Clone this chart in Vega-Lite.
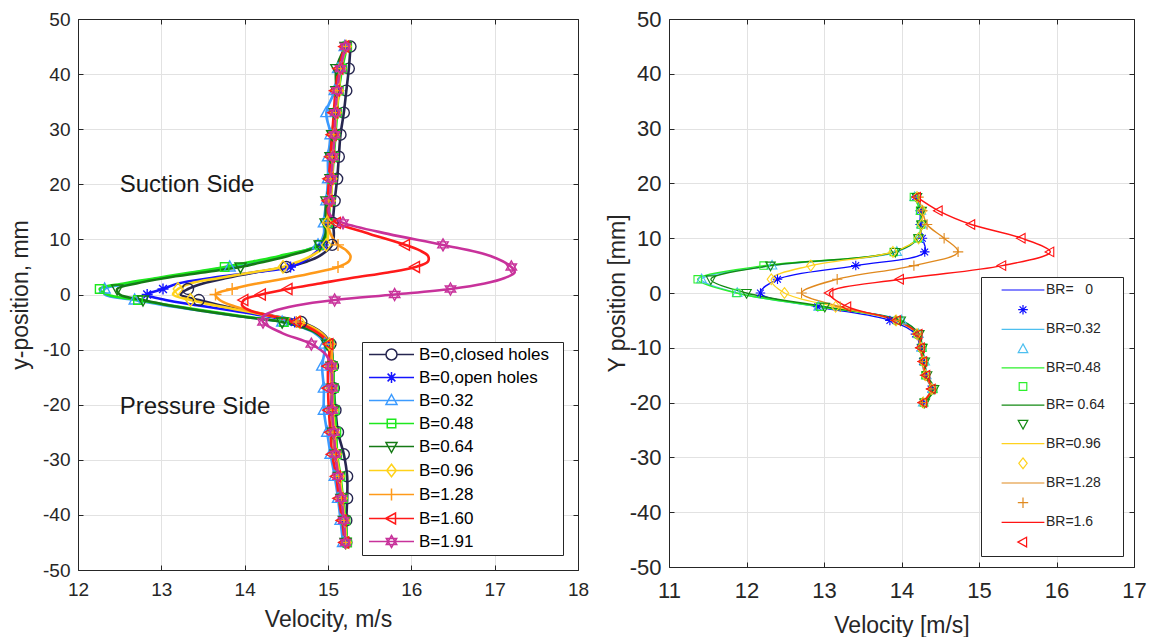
{
"$schema": "https://vega.github.io/schema/vega-lite/v6.json",
"padding": {"left": 9, "top": 8, "right": 5, "bottom": 0},
"spacing": 17,
"config": {
  "font": "Liberation Sans",
  "view": {"stroke": null},
  "axis": {"labelFlush": false, "domainColor": "#262626", "tickColor": "#262626", "labelColor": "#262626", "titleColor": "#262626", "titleFontWeight": "normal", "gridColor": "#e2e2e2", "gridWidth": 1, "domainWidth": 1, "tickWidth": 1}
},
"resolve": {"scale": {"color": "independent", "shape": "independent"}, "legend": {"color": "independent"}},
"datasets": {
"L": [
{"s":"B=0,closed holes","y":45,"v":15.27,"m":1},{"s":"B=0,closed holes","y":41,"v":15.25,"m":1},{"s":"B=0,closed holes","y":37,"v":15.22,"m":1},{"s":"B=0,closed holes","y":33,"v":15.19,"m":1},{"s":"B=0,closed holes","y":29,"v":15.15,"m":1},{"s":"B=0,closed holes","y":25,"v":15.13,"m":1},{"s":"B=0,closed holes","y":21,"v":15.11,"m":1},{"s":"B=0,closed holes","y":17,"v":15.08,"m":1},{"s":"B=0,closed holes","y":13,"v":15.06,"m":1},{"s":"B=0,closed holes","y":11,"v":15.07,"m":0},{"s":"B=0,closed holes","y":9,"v":15.05,"m":1},{"s":"B=0,closed holes","y":7,"v":14.9,"m":0},{"s":"B=0,closed holes","y":6,"v":14.75,"m":0},{"s":"B=0,closed holes","y":5,"v":14.5,"m":1},{"s":"B=0,closed holes","y":4,"v":14.12,"m":0},{"s":"B=0,closed holes","y":3,"v":13.78,"m":0},{"s":"B=0,closed holes","y":2,"v":13.5,"m":0},{"s":"B=0,closed holes","y":1,"v":13.32,"m":1},{"s":"B=0,closed holes","y":0,"v":13.23,"m":0},{"s":"B=0,closed holes","y":-1,"v":13.45,"m":1},{"s":"B=0,closed holes","y":-2,"v":13.72,"m":0},{"s":"B=0,closed holes","y":-3,"v":14.02,"m":0},{"s":"B=0,closed holes","y":-4,"v":14.38,"m":0},{"s":"B=0,closed holes","y":-5,"v":14.68,"m":1},{"s":"B=0,closed holes","y":-7,"v":14.93,"m":0},{"s":"B=0,closed holes","y":-9,"v":15.03,"m":1},{"s":"B=0,closed holes","y":-13,"v":15.06,"m":1},{"s":"B=0,closed holes","y":-17,"v":15.07,"m":1},{"s":"B=0,closed holes","y":-21,"v":15.09,"m":1},{"s":"B=0,closed holes","y":-25,"v":15.12,"m":1},{"s":"B=0,closed holes","y":-29,"v":15.19,"m":1},{"s":"B=0,closed holes","y":-33,"v":15.23,"m":1},{"s":"B=0,closed holes","y":-37,"v":15.23,"m":1},{"s":"B=0,closed holes","y":-41,"v":15.22,"m":1},{"s":"B=0,closed holes","y":-45,"v":15.22,"m":1},
{"s":"B=0,open holes","y":45,"v":15.22,"m":1},{"s":"B=0,open holes","y":41,"v":15.16,"m":1},{"s":"B=0,open holes","y":37,"v":15.13,"m":1},{"s":"B=0,open holes","y":33,"v":15.1,"m":1},{"s":"B=0,open holes","y":29,"v":15.08,"m":1},{"s":"B=0,open holes","y":25,"v":15.06,"m":1},{"s":"B=0,open holes","y":21,"v":15.04,"m":1},{"s":"B=0,open holes","y":17,"v":15.02,"m":1},{"s":"B=0,open holes","y":13,"v":15.0,"m":1},{"s":"B=0,open holes","y":11,"v":14.99,"m":0},{"s":"B=0,open holes","y":9,"v":14.94,"m":1},{"s":"B=0,open holes","y":7,"v":14.8,"m":0},{"s":"B=0,open holes","y":6,"v":14.7,"m":0},{"s":"B=0,open holes","y":5,"v":14.55,"m":1},{"s":"B=0,open holes","y":4,"v":14.1,"m":0},{"s":"B=0,open holes","y":3,"v":13.6,"m":0},{"s":"B=0,open holes","y":2,"v":13.2,"m":0},{"s":"B=0,open holes","y":1,"v":13.02,"m":1},{"s":"B=0,open holes","y":0,"v":12.83,"m":1},{"s":"B=0,open holes","y":-1,"v":13.05,"m":0},{"s":"B=0,open holes","y":-2,"v":13.45,"m":0},{"s":"B=0,open holes","y":-3,"v":13.88,"m":0},{"s":"B=0,open holes","y":-4,"v":14.28,"m":0},{"s":"B=0,open holes","y":-5,"v":14.6,"m":1},{"s":"B=0,open holes","y":-7,"v":14.9,"m":0},{"s":"B=0,open holes","y":-9,"v":15.0,"m":1},{"s":"B=0,open holes","y":-13,"v":15.03,"m":1},{"s":"B=0,open holes","y":-17,"v":15.04,"m":1},{"s":"B=0,open holes","y":-21,"v":15.04,"m":1},{"s":"B=0,open holes","y":-25,"v":15.07,"m":1},{"s":"B=0,open holes","y":-29,"v":15.09,"m":1},{"s":"B=0,open holes","y":-33,"v":15.13,"m":1},{"s":"B=0,open holes","y":-37,"v":15.16,"m":1},{"s":"B=0,open holes","y":-41,"v":15.19,"m":1},{"s":"B=0,open holes","y":-45,"v":15.21,"m":1},
{"s":"B=0.32","y":45,"v":15.2,"m":1},{"s":"B=0.32","y":41,"v":15.12,"m":1},{"s":"B=0.32","y":37,"v":15.08,"m":1},{"s":"B=0.32","y":33,"v":14.98,"m":1},{"s":"B=0.32","y":29,"v":15.03,"m":1},{"s":"B=0.32","y":25,"v":15.0,"m":1},{"s":"B=0.32","y":21,"v":15.0,"m":1},{"s":"B=0.32","y":17,"v":14.98,"m":1},{"s":"B=0.32","y":13,"v":14.95,"m":1},{"s":"B=0.32","y":11,"v":14.95,"m":0},{"s":"B=0.32","y":9,"v":14.88,"m":1},{"s":"B=0.32","y":7,"v":14.45,"m":0},{"s":"B=0.32","y":6,"v":14.15,"m":0},{"s":"B=0.32","y":5,"v":13.82,"m":1},{"s":"B=0.32","y":4,"v":13.4,"m":0},{"s":"B=0.32","y":3,"v":13.0,"m":0},{"s":"B=0.32","y":2,"v":12.62,"m":0},{"s":"B=0.32","y":1,"v":12.32,"m":1},{"s":"B=0.32","y":0,"v":12.32,"m":0},{"s":"B=0.32","y":-1,"v":12.68,"m":1},{"s":"B=0.32","y":-2,"v":13.05,"m":0},{"s":"B=0.32","y":-3,"v":13.5,"m":0},{"s":"B=0.32","y":-4,"v":13.95,"m":0},{"s":"B=0.32","y":-5,"v":14.45,"m":1},{"s":"B=0.32","y":-7,"v":14.84,"m":0},{"s":"B=0.32","y":-9,"v":14.96,"m":1},{"s":"B=0.32","y":-13,"v":14.93,"m":1},{"s":"B=0.32","y":-17,"v":14.95,"m":1},{"s":"B=0.32","y":-21,"v":14.95,"m":1},{"s":"B=0.32","y":-25,"v":14.99,"m":1},{"s":"B=0.32","y":-29,"v":15.03,"m":1},{"s":"B=0.32","y":-33,"v":15.08,"m":1},{"s":"B=0.32","y":-37,"v":15.12,"m":1},{"s":"B=0.32","y":-41,"v":15.15,"m":1},{"s":"B=0.32","y":-45,"v":15.18,"m":1},
{"s":"B=0.48","y":45,"v":15.23,"m":1},{"s":"B=0.48","y":41,"v":15.17,"m":1},{"s":"B=0.48","y":37,"v":15.13,"m":1},{"s":"B=0.48","y":33,"v":15.11,"m":1},{"s":"B=0.48","y":29,"v":15.09,"m":1},{"s":"B=0.48","y":25,"v":15.07,"m":1},{"s":"B=0.48","y":21,"v":15.05,"m":1},{"s":"B=0.48","y":17,"v":15.03,"m":1},{"s":"B=0.48","y":13,"v":15.0,"m":1},{"s":"B=0.48","y":11,"v":14.99,"m":0},{"s":"B=0.48","y":9,"v":14.9,"m":1},{"s":"B=0.48","y":7,"v":14.42,"m":0},{"s":"B=0.48","y":6,"v":14.1,"m":0},{"s":"B=0.48","y":5,"v":13.76,"m":1},{"s":"B=0.48","y":4,"v":13.35,"m":0},{"s":"B=0.48","y":3,"v":12.95,"m":0},{"s":"B=0.48","y":2,"v":12.55,"m":0},{"s":"B=0.48","y":1,"v":12.26,"m":1},{"s":"B=0.48","y":0,"v":12.35,"m":0},{"s":"B=0.48","y":-1,"v":12.72,"m":1},{"s":"B=0.48","y":-2,"v":13.12,"m":0},{"s":"B=0.48","y":-3,"v":13.55,"m":0},{"s":"B=0.48","y":-4,"v":14.0,"m":0},{"s":"B=0.48","y":-5,"v":14.47,"m":1},{"s":"B=0.48","y":-7,"v":14.88,"m":0},{"s":"B=0.48","y":-9,"v":15.02,"m":1},{"s":"B=0.48","y":-13,"v":15.06,"m":1},{"s":"B=0.48","y":-17,"v":15.07,"m":1},{"s":"B=0.48","y":-21,"v":15.08,"m":1},{"s":"B=0.48","y":-25,"v":15.1,"m":1},{"s":"B=0.48","y":-29,"v":15.11,"m":1},{"s":"B=0.48","y":-33,"v":15.15,"m":1},{"s":"B=0.48","y":-37,"v":15.18,"m":1},{"s":"B=0.48","y":-41,"v":15.21,"m":1},{"s":"B=0.48","y":-45,"v":15.23,"m":1},
{"s":"B=0.64","y":45,"v":15.21,"m":1},{"s":"B=0.64","y":41,"v":15.1,"m":1},{"s":"B=0.64","y":37,"v":15.1,"m":1},{"s":"B=0.64","y":33,"v":15.08,"m":1},{"s":"B=0.64","y":29,"v":15.05,"m":1},{"s":"B=0.64","y":25,"v":15.03,"m":1},{"s":"B=0.64","y":21,"v":15.03,"m":1},{"s":"B=0.64","y":17,"v":14.98,"m":1},{"s":"B=0.64","y":13,"v":14.97,"m":1},{"s":"B=0.64","y":11,"v":14.97,"m":0},{"s":"B=0.64","y":9,"v":14.9,"m":1},{"s":"B=0.64","y":7,"v":14.52,"m":0},{"s":"B=0.64","y":6,"v":14.25,"m":0},{"s":"B=0.64","y":5,"v":13.95,"m":1},{"s":"B=0.64","y":4,"v":13.5,"m":0},{"s":"B=0.64","y":3,"v":13.05,"m":0},{"s":"B=0.64","y":2,"v":12.7,"m":0},{"s":"B=0.64","y":1,"v":12.47,"m":1},{"s":"B=0.64","y":0,"v":12.5,"m":0},{"s":"B=0.64","y":-1,"v":12.78,"m":1},{"s":"B=0.64","y":-2,"v":13.1,"m":0},{"s":"B=0.64","y":-3,"v":13.5,"m":0},{"s":"B=0.64","y":-4,"v":13.95,"m":0},{"s":"B=0.64","y":-5,"v":14.45,"m":1},{"s":"B=0.64","y":-7,"v":14.86,"m":0},{"s":"B=0.64","y":-9,"v":14.99,"m":1},{"s":"B=0.64","y":-13,"v":15.04,"m":1},{"s":"B=0.64","y":-17,"v":15.05,"m":1},{"s":"B=0.64","y":-21,"v":15.06,"m":1},{"s":"B=0.64","y":-25,"v":15.06,"m":1},{"s":"B=0.64","y":-29,"v":15.09,"m":1},{"s":"B=0.64","y":-33,"v":15.13,"m":1},{"s":"B=0.64","y":-37,"v":15.16,"m":1},{"s":"B=0.64","y":-41,"v":15.19,"m":1},{"s":"B=0.64","y":-45,"v":15.21,"m":1},
{"s":"B=0.96","y":45,"v":15.22,"m":1},{"s":"B=0.96","y":41,"v":15.15,"m":1},{"s":"B=0.96","y":37,"v":15.13,"m":1},{"s":"B=0.96","y":33,"v":15.1,"m":1},{"s":"B=0.96","y":29,"v":15.08,"m":1},{"s":"B=0.96","y":25,"v":15.06,"m":1},{"s":"B=0.96","y":21,"v":15.05,"m":1},{"s":"B=0.96","y":17,"v":15.03,"m":1},{"s":"B=0.96","y":13,"v":14.99,"m":1},{"s":"B=0.96","y":11,"v":15.0,"m":0},{"s":"B=0.96","y":9,"v":14.98,"m":1},{"s":"B=0.96","y":7,"v":14.8,"m":0},{"s":"B=0.96","y":6,"v":14.65,"m":0},{"s":"B=0.96","y":5,"v":14.46,"m":1},{"s":"B=0.96","y":4,"v":14.08,"m":0},{"s":"B=0.96","y":3,"v":13.7,"m":0},{"s":"B=0.96","y":2,"v":13.35,"m":0},{"s":"B=0.96","y":1,"v":13.2,"m":1},{"s":"B=0.96","y":0,"v":13.14,"m":0},{"s":"B=0.96","y":-1,"v":13.35,"m":1},{"s":"B=0.96","y":-2,"v":13.65,"m":0},{"s":"B=0.96","y":-3,"v":14.0,"m":0},{"s":"B=0.96","y":-4,"v":14.35,"m":0},{"s":"B=0.96","y":-5,"v":14.66,"m":1},{"s":"B=0.96","y":-7,"v":14.92,"m":0},{"s":"B=0.96","y":-9,"v":15.02,"m":1},{"s":"B=0.96","y":-13,"v":15.05,"m":1},{"s":"B=0.96","y":-17,"v":15.05,"m":1},{"s":"B=0.96","y":-21,"v":15.06,"m":1},{"s":"B=0.96","y":-25,"v":15.08,"m":1},{"s":"B=0.96","y":-29,"v":15.1,"m":1},{"s":"B=0.96","y":-33,"v":15.14,"m":1},{"s":"B=0.96","y":-37,"v":15.17,"m":1},{"s":"B=0.96","y":-41,"v":15.2,"m":1},{"s":"B=0.96","y":-45,"v":15.22,"m":1},
{"s":"B=1.28","y":45,"v":15.21,"m":1},{"s":"B=1.28","y":41,"v":15.15,"m":1},{"s":"B=1.28","y":37,"v":15.11,"m":1},{"s":"B=1.28","y":33,"v":15.09,"m":1},{"s":"B=1.28","y":29,"v":15.07,"m":1},{"s":"B=1.28","y":25,"v":15.05,"m":1},{"s":"B=1.28","y":21,"v":15.03,"m":1},{"s":"B=1.28","y":17,"v":15.01,"m":1},{"s":"B=1.28","y":13,"v":15.0,"m":1},{"s":"B=1.28","y":11,"v":15.03,"m":0},{"s":"B=1.28","y":9,"v":15.12,"m":1},{"s":"B=1.28","y":8,"v":15.22,"m":0},{"s":"B=1.28","y":7,"v":15.27,"m":0},{"s":"B=1.28","y":6,"v":15.25,"m":0},{"s":"B=1.28","y":5,"v":15.12,"m":1},{"s":"B=1.28","y":4,"v":14.85,"m":0},{"s":"B=1.28","y":3,"v":14.52,"m":0},{"s":"B=1.28","y":2,"v":14.15,"m":0},{"s":"B=1.28","y":1,"v":13.85,"m":1},{"s":"B=1.28","y":0,"v":13.65,"m":1},{"s":"B=1.28","y":-1,"v":13.7,"m":0},{"s":"B=1.28","y":-2,"v":13.85,"m":0},{"s":"B=1.28","y":-3,"v":14.07,"m":0},{"s":"B=1.28","y":-4,"v":14.36,"m":0},{"s":"B=1.28","y":-5,"v":14.62,"m":1},{"s":"B=1.28","y":-7,"v":14.9,"m":0},{"s":"B=1.28","y":-9,"v":15.03,"m":1},{"s":"B=1.28","y":-13,"v":15.04,"m":1},{"s":"B=1.28","y":-17,"v":15.04,"m":1},{"s":"B=1.28","y":-21,"v":15.05,"m":1},{"s":"B=1.28","y":-25,"v":15.06,"m":1},{"s":"B=1.28","y":-29,"v":15.09,"m":1},{"s":"B=1.28","y":-33,"v":15.13,"m":1},{"s":"B=1.28","y":-37,"v":15.16,"m":1},{"s":"B=1.28","y":-41,"v":15.19,"m":1},{"s":"B=1.28","y":-45,"v":15.21,"m":1},
{"s":"B=1.60","y":45,"v":15.2,"m":1},{"s":"B=1.60","y":41,"v":15.13,"m":1},{"s":"B=1.60","y":37,"v":15.09,"m":1},{"s":"B=1.60","y":33,"v":15.07,"m":1},{"s":"B=1.60","y":29,"v":15.05,"m":1},{"s":"B=1.60","y":25,"v":15.03,"m":1},{"s":"B=1.60","y":21,"v":15.01,"m":1},{"s":"B=1.60","y":17,"v":15.0,"m":1},{"s":"B=1.60","y":15,"v":15.0,"m":0},{"s":"B=1.60","y":14,"v":15.03,"m":0},{"s":"B=1.60","y":13,"v":15.1,"m":1},{"s":"B=1.60","y":11,"v":15.5,"m":0},{"s":"B=1.60","y":9,"v":15.93,"m":1},{"s":"B=1.60","y":8,"v":16.1,"m":0},{"s":"B=1.60","y":7,"v":16.2,"m":0},{"s":"B=1.60","y":6,"v":16.2,"m":0},{"s":"B=1.60","y":5,"v":16.05,"m":1},{"s":"B=1.60","y":4,"v":15.72,"m":0},{"s":"B=1.60","y":3,"v":15.28,"m":0},{"s":"B=1.60","y":2,"v":14.9,"m":0},{"s":"B=1.60","y":1,"v":14.52,"m":1},{"s":"B=1.60","y":0,"v":14.2,"m":1},{"s":"B=1.60","y":-1,"v":13.99,"m":1},{"s":"B=1.60","y":-2,"v":13.97,"m":0},{"s":"B=1.60","y":-3,"v":14.08,"m":0},{"s":"B=1.60","y":-4,"v":14.35,"m":0},{"s":"B=1.60","y":-5,"v":14.62,"m":1},{"s":"B=1.60","y":-7,"v":14.88,"m":0},{"s":"B=1.60","y":-9,"v":15.01,"m":1},{"s":"B=1.60","y":-13,"v":15.0,"m":1},{"s":"B=1.60","y":-17,"v":15.0,"m":1},{"s":"B=1.60","y":-21,"v":15.01,"m":1},{"s":"B=1.60","y":-25,"v":15.03,"m":1},{"s":"B=1.60","y":-29,"v":15.05,"m":1},{"s":"B=1.60","y":-33,"v":15.1,"m":1},{"s":"B=1.60","y":-37,"v":15.13,"m":1},{"s":"B=1.60","y":-41,"v":15.17,"m":1},{"s":"B=1.60","y":-45,"v":15.2,"m":1},
{"s":"B=1.91","y":45,"v":15.21,"m":1},{"s":"B=1.91","y":41,"v":15.15,"m":1},{"s":"B=1.91","y":37,"v":15.11,"m":1},{"s":"B=1.91","y":33,"v":15.09,"m":1},{"s":"B=1.91","y":29,"v":15.08,"m":1},{"s":"B=1.91","y":25,"v":15.06,"m":1},{"s":"B=1.91","y":21,"v":15.04,"m":1},{"s":"B=1.91","y":17,"v":15.02,"m":1},{"s":"B=1.91","y":15,"v":15.01,"m":0},{"s":"B=1.91","y":14,"v":15.05,"m":0},{"s":"B=1.91","y":13,"v":15.18,"m":1},{"s":"B=1.91","y":11,"v":15.72,"m":0},{"s":"B=1.91","y":9,"v":16.38,"m":1},{"s":"B=1.91","y":7,"v":16.95,"m":0},{"s":"B=1.91","y":5,"v":17.2,"m":1},{"s":"B=1.91","y":4,"v":17.24,"m":0},{"s":"B=1.91","y":3,"v":17.12,"m":0},{"s":"B=1.91","y":2,"v":16.88,"m":0},{"s":"B=1.91","y":1,"v":16.47,"m":1},{"s":"B=1.91","y":0,"v":15.8,"m":1},{"s":"B=1.91","y":-1,"v":15.08,"m":1},{"s":"B=1.91","y":-2,"v":14.62,"m":0},{"s":"B=1.91","y":-3,"v":14.35,"m":0},{"s":"B=1.91","y":-4,"v":14.22,"m":0},{"s":"B=1.91","y":-5,"v":14.22,"m":1},{"s":"B=1.91","y":-7,"v":14.45,"m":0},{"s":"B=1.91","y":-9,"v":14.8,"m":1},{"s":"B=1.91","y":-11,"v":14.98,"m":0},{"s":"B=1.91","y":-13,"v":15.04,"m":1},{"s":"B=1.91","y":-17,"v":15.05,"m":1},{"s":"B=1.91","y":-21,"v":15.05,"m":1},{"s":"B=1.91","y":-25,"v":15.07,"m":1},{"s":"B=1.91","y":-29,"v":15.09,"m":1},{"s":"B=1.91","y":-33,"v":15.12,"m":1},{"s":"B=1.91","y":-37,"v":15.16,"m":1},{"s":"B=1.91","y":-41,"v":15.19,"m":1},{"s":"B=1.91","y":-45,"v":15.21,"m":1}
],
"R": [
{"s":"BR=\u00a0\u00a0 0","k":"k0","y":17.5,"v":14.18},{"s":"BR=\u00a0\u00a0 0","k":"k0","y":15,"v":14.24},{"s":"BR=\u00a0\u00a0 0","k":"k0","y":12.5,"v":14.24},{"s":"BR=\u00a0\u00a0 0","k":"k0","y":10,"v":14.27},{"s":"BR=\u00a0\u00a0 0","k":"k0","y":7.5,"v":14.3},{"s":"BR=\u00a0\u00a0 0","k":"k0","y":5,"v":13.41},{"s":"BR=\u00a0\u00a0 0","k":"k0","y":2.5,"v":12.4},{"s":"BR=\u00a0\u00a0 0","k":"k0","y":0,"v":12.18},{"s":"BR=\u00a0\u00a0 0","k":"k0","y":-2.5,"v":12.92},{"s":"BR=\u00a0\u00a0 0","k":"k0","y":-5,"v":13.85},{"s":"BR=\u00a0\u00a0 0","k":"k0","y":-7.5,"v":14.18},{"s":"BR=\u00a0\u00a0 0","k":"k0","y":-10,"v":14.24},{"s":"BR=\u00a0\u00a0 0","k":"k0","y":-12.5,"v":14.27},{"s":"BR=\u00a0\u00a0 0","k":"k0","y":-15,"v":14.3},{"s":"BR=\u00a0\u00a0 0","k":"k0","y":-17.5,"v":14.38},{"s":"BR=\u00a0\u00a0 0","k":"k0","y":-20,"v":14.28},
{"s":"BR=0.32","k":"k1","y":17.5,"v":14.17},{"s":"BR=0.32","k":"k1","y":15,"v":14.25},{"s":"BR=0.32","k":"k1","y":12.5,"v":14.26},{"s":"BR=0.32","k":"k1","y":10,"v":14.22},{"s":"BR=0.32","k":"k1","y":7.5,"v":13.94},{"s":"BR=0.32","k":"k1","y":5,"v":12.33},{"s":"BR=0.32","k":"k1","y":2.5,"v":11.42},{"s":"BR=0.32","k":"k1","y":0,"v":11.88},{"s":"BR=0.32","k":"k1","y":-2.5,"v":12.93},{"s":"BR=0.32","k":"k1","y":-5,"v":14.0},{"s":"BR=0.32","k":"k1","y":-7.5,"v":14.22},{"s":"BR=0.32","k":"k1","y":-10,"v":14.26},{"s":"BR=0.32","k":"k1","y":-12.5,"v":14.3},{"s":"BR=0.32","k":"k1","y":-15,"v":14.32},{"s":"BR=0.32","k":"k1","y":-17.5,"v":14.4},{"s":"BR=0.32","k":"k1","y":-20,"v":14.28},
{"s":"BR=0.48","k":"k2","y":17.5,"v":14.16},{"s":"BR=0.48","k":"k2","y":15,"v":14.24},{"s":"BR=0.48","k":"k2","y":12.5,"v":14.25},{"s":"BR=0.48","k":"k2","y":10,"v":14.21},{"s":"BR=0.48","k":"k2","y":7.5,"v":13.9},{"s":"BR=0.48","k":"k2","y":5,"v":12.22},{"s":"BR=0.48","k":"k2","y":2.5,"v":11.37},{"s":"BR=0.48","k":"k2","y":0,"v":11.87},{"s":"BR=0.48","k":"k2","y":-2.5,"v":12.95},{"s":"BR=0.48","k":"k2","y":-5,"v":13.95},{"s":"BR=0.48","k":"k2","y":-7.5,"v":14.21},{"s":"BR=0.48","k":"k2","y":-10,"v":14.27},{"s":"BR=0.48","k":"k2","y":-12.5,"v":14.29},{"s":"BR=0.48","k":"k2","y":-15,"v":14.31},{"s":"BR=0.48","k":"k2","y":-17.5,"v":14.41},{"s":"BR=0.48","k":"k2","y":-20,"v":14.29},
{"s":"BR= 0.64","k":"k3","y":17.5,"v":14.2},{"s":"BR= 0.64","k":"k3","y":15,"v":14.26},{"s":"BR= 0.64","k":"k3","y":12.5,"v":14.26},{"s":"BR= 0.64","k":"k3","y":10,"v":14.22},{"s":"BR= 0.64","k":"k3","y":7.5,"v":13.92},{"s":"BR= 0.64","k":"k3","y":5,"v":12.31},{"s":"BR= 0.64","k":"k3","y":2.5,"v":11.54},{"s":"BR= 0.64","k":"k3","y":0,"v":12.0},{"s":"BR= 0.64","k":"k3","y":-2.5,"v":13.01},{"s":"BR= 0.64","k":"k3","y":-5,"v":13.99},{"s":"BR= 0.64","k":"k3","y":-7.5,"v":14.23},{"s":"BR= 0.64","k":"k3","y":-10,"v":14.27},{"s":"BR= 0.64","k":"k3","y":-12.5,"v":14.3},{"s":"BR= 0.64","k":"k3","y":-15,"v":14.33},{"s":"BR= 0.64","k":"k3","y":-17.5,"v":14.42},{"s":"BR= 0.64","k":"k3","y":-20,"v":14.3},
{"s":"BR=0.96","k":"k4","y":17.5,"v":14.2},{"s":"BR=0.96","k":"k4","y":15,"v":14.27},{"s":"BR=0.96","k":"k4","y":12.5,"v":14.26},{"s":"BR=0.96","k":"k4","y":10,"v":14.22},{"s":"BR=0.96","k":"k4","y":7.5,"v":13.89},{"s":"BR=0.96","k":"k4","y":5,"v":12.83},{"s":"BR=0.96","k":"k4","y":2.5,"v":12.32},{"s":"BR=0.96","k":"k4","y":0,"v":12.49},{"s":"BR=0.96","k":"k4","y":-2.5,"v":13.15},{"s":"BR=0.96","k":"k4","y":-5,"v":13.93},{"s":"BR=0.96","k":"k4","y":-7.5,"v":14.2},{"s":"BR=0.96","k":"k4","y":-10,"v":14.25},{"s":"BR=0.96","k":"k4","y":-12.5,"v":14.28},{"s":"BR=0.96","k":"k4","y":-15,"v":14.31},{"s":"BR=0.96","k":"k4","y":-17.5,"v":14.39},{"s":"BR=0.96","k":"k4","y":-20,"v":14.28},
{"s":"BR=1.28","k":"k5","y":17.5,"v":14.22},{"s":"BR=1.28","k":"k5","y":15,"v":14.27},{"s":"BR=1.28","k":"k5","y":12.5,"v":14.33},{"s":"BR=1.28","k":"k5","y":10,"v":14.55},{"s":"BR=1.28","k":"k5","y":7.5,"v":14.73},{"s":"BR=1.28","k":"k5","y":5,"v":14.16},{"s":"BR=1.28","k":"k5","y":2.5,"v":13.17},{"s":"BR=1.28","k":"k5","y":0,"v":12.71},{"s":"BR=1.28","k":"k5","y":-2.5,"v":13.21},{"s":"BR=1.28","k":"k5","y":-5,"v":13.92},{"s":"BR=1.28","k":"k5","y":-7.5,"v":14.2},{"s":"BR=1.28","k":"k5","y":-10,"v":14.24},{"s":"BR=1.28","k":"k5","y":-12.5,"v":14.27},{"s":"BR=1.28","k":"k5","y":-15,"v":14.3},{"s":"BR=1.28","k":"k5","y":-17.5,"v":14.38},{"s":"BR=1.28","k":"k5","y":-20,"v":14.27},
{"s":"BR=1.6","k":"k6","y":17.5,"v":14.2},{"s":"BR=1.6","k":"k6","y":15,"v":14.48},{"s":"BR=1.6","k":"k6","y":12.5,"v":14.9},{"s":"BR=1.6","k":"k6","y":10,"v":15.55},{"s":"BR=1.6","k":"k6","y":7.5,"v":15.92},{"s":"BR=1.6","k":"k6","y":5,"v":15.3},{"s":"BR=1.6","k":"k6","y":2.5,"v":13.98},{"s":"BR=1.6","k":"k6","y":0,"v":13.07},{"s":"BR=1.6","k":"k6","y":-2.5,"v":13.3},{"s":"BR=1.6","k":"k6","y":-5,"v":13.94},{"s":"BR=1.6","k":"k6","y":-7.5,"v":14.22},{"s":"BR=1.6","k":"k6","y":-10,"v":14.25},{"s":"BR=1.6","k":"k6","y":-12.5,"v":14.28},{"s":"BR=1.6","k":"k6","y":-15,"v":14.32},{"s":"BR=1.6","k":"k6","y":-17.5,"v":14.39},{"s":"BR=1.6","k":"k6","y":-20,"v":14.28}
],
"ann": [{"t":"Suction Side","v":12.5,"y":19.8},{"t":"Pressure Side","v":12.5,"y":-20.5}]
},
"hconcat": [
{
 "width": 500, "height": 551,
 "layer": [
  {"data": {"name": "L"},
   "mark": {"type": "line", "interpolate": "catmull-rom", "strokeWidth": 2.6},
   "encoding": {
    "x": {"field": "v", "type": "quantitative", "scale": {"domain": [12, 18], "nice": false, "zero": false},
          "axis": {"values": [12,13,14,15,16,17,18], "title": "Velocity, m/s", "titleFontSize": 23, "labelFontSize": 19, "grid": true, "tickSize": -5, "labelPadding": 15, "titlePadding": 9}},
    "y": {"field": "y", "type": "quantitative", "scale": {"domain": [-50, 50], "nice": false, "zero": false},
          "axis": {"values": [-50,-40,-30,-20,-10,0,10,20,30,40,50], "labelExpr": "toString(datum.value)", "title": "y-position, mm", "titleFontSize": 23, "labelFontSize": 19, "grid": true, "tickSize": -5, "labelPadding": 13, "titlePadding": 10}},
    "color": {"field": "s", "type": "nominal",
      "scale": {"domain": ["B=0,closed holes","B=0,open holes","B=0.32","B=0.48","B=0.64","B=0.96","B=1.28","B=1.60","B=1.91"],
                "range": ["#262650","#1414ff","#3c9bff","#1ee81e","#157a15","#ffd21a","#ff9a1a","#ff1a1a","#c8329b"]},
      "legend": {"orient": "bottom-right", "offset": 15, "title": null, "symbolSize": 100, "symbolStrokeWidth": 1.5, "labelFontSize": 17, "labelColor": "#000000", "strokeColor": "#262626", "fillColor": "#ffffff", "padding": 4, "rowPadding": 5, "symbolOffset": 17, "labelOffset": 19,
        "labelExpr": "datum.label + '\u00a0\u00a0\u200b'",
        "encode": {"symbols": {"update": {"fill": {"value": "transparent"}, "strokeWidth": {"value": 1.5}, "size": {"value": 100},
          "shape": {"signal": "datum.value==='B=0,closed holes'?'M-4.5,0L-1.1,0M1.1,0L4.5,0M1.1,0A1.1,1.1,0,1,1,-1.1,0A1.1,1.1,0,1,1,1.1,0':datum.value==='B=0,open holes'?'M-4.5,0L4.5,0M-1.1,0L1.1,0M0,-1.1L0,1.1M-0.78,-0.78L0.78,0.78M-0.78,0.78L0.78,-0.78':datum.value==='B=0.32'?'M-4.5,0L4.5,0M0,-1.2L1.1,0.8L-1.1,0.8Z':datum.value==='B=0.48'?'M-4.5,0L4.5,0M-0.85,-0.85L0.85,-0.85L0.85,0.85L-0.85,0.85Z':datum.value==='B=0.64'?'M-4.5,0L4.5,0M0,1.2L1.1,-0.8L-1.1,-0.8Z':datum.value==='B=0.96'?'M-4.5,0L4.5,0M0,-1.25L0.95,0L0,1.25L-0.95,0Z':datum.value==='B=1.28'?'M-4.5,0L4.5,0M0,-1.2L0,1.2':datum.value==='B=1.60'?'M-4.5,0L4.5,0M-1.2,0L0.8,-1.1L0.8,1.1Z':'M-4.5,0L4.5,0M0,-1.2L1.04,0.6L-1.04,0.6ZM0,1.2L1.04,-0.6L-1.04,-0.6Z'"}}}}}},
    "order": {"field": "y", "type": "quantitative"}
   }},
  {"data": {"name": "L"},
   "transform": [{"filter": "datum.m == 1"}],
   "mark": {"type": "point", "filled": false, "size": 100, "strokeWidth": 1.4, "opacity": 1},
   "encoding": {
    "x": {"field": "v", "type": "quantitative", "scale": {"domain": [12, 18], "nice": false, "zero": false},
          "axis": {"orient": "top", "values": [12,13,14,15,16,17,18], "labels": false, "title": null, "grid": false, "tickSize": -5}},
    "y": {"field": "y", "type": "quantitative", "scale": {"domain": [-50, 50], "nice": false, "zero": false},
          "axis": {"orient": "right", "values": [-50,-40,-30,-20,-10,0,10,20,30,40,50], "labels": false, "title": null, "grid": false, "tickSize": -5}},
    "color": {"field": "s", "type": "nominal"},
    "shape": {"field": "s", "type": "nominal", "legend": null,
      "scale": {"domain": ["B=1.91","B=1.60","B=1.28","B=0.96","B=0.64","B=0.48","B=0.32","B=0,open holes","B=0,closed holes"],
                "range": ["M0,-1.2L1.04,0.6L-1.04,0.6ZM0,1.2L1.04,-0.6L-1.04,-0.6Z","M-1.2,0L0.8,-1.1L0.8,1.1Z","M-1.2,0L1.2,0M0,-1.2L0,1.2","M0,-1.25L0.95,0L0,1.25L-0.95,0Z","M0,1.2L1.1,-0.8L-1.1,-0.8Z","M-0.85,-0.85L0.85,-0.85L0.85,0.85L-0.85,0.85Z","M0,-1.2L1.1,0.8L-1.1,0.8Z","M-1.1,0L1.1,0M0,-1.1L0,1.1M-0.78,-0.78L0.78,0.78M-0.78,0.78L0.78,-0.78","M1.1,0A1.1,1.1,0,1,1,-1.1,0A1.1,1.1,0,1,1,1.1,0"]}}
   }},
  {"data": {"name": "ann"},
   "mark": {"type": "text", "align": "left", "baseline": "middle", "fontSize": 24, "color": "#1a1a1a"},
   "encoding": {
    "x": {"field": "v", "type": "quantitative", "axis": null},
    "y": {"field": "y", "type": "quantitative", "axis": null},
    "text": {"field": "t", "type": "nominal"}
   }}
 ],
 "resolve": {"axis": {"x": "independent", "y": "independent"}}
},
{
 "width": 465, "height": 548,
 "layer": [
  {"data": {"name": "R"},
   "mark": {"type": "line", "interpolate": "catmull-rom", "strokeWidth": 1.4},
   "encoding": {
    "x": {"field": "v", "type": "quantitative", "scale": {"domain": [11, 17], "nice": false, "zero": false},
          "axis": {"values": [11,12,13,14,15,16,17], "title": "Velocity [m/s]", "titleFontSize": 23, "labelFontSize": 22, "grid": true, "tickSize": -5, "labelPadding": 18, "titlePadding": 13}},
    "y": {"field": "y", "type": "quantitative", "scale": {"domain": [-50, 50], "nice": false, "zero": false},
          "axis": {"values": [-50,-40,-30,-20,-10,0,10,20,30,40,50], "labelExpr": "toString(datum.value)", "title": "Y position [mm]", "titleFontSize": 23, "labelFontSize": 22, "grid": true, "tickSize": -5, "labelPadding": 13, "titlePadding": 0}},
    "color": {"field": "s", "type": "nominal",
      "scale": {"domain": ["BR=\u00a0\u00a0 0","k0","BR=0.32","k1","BR=0.48","k2","BR= 0.64","k3","BR=0.96","k4","BR=1.28","k5","BR=1.6","k6"],
                "range": ["#0a0aff","#0a0aff","#4dbfef","#4dbfef","#2df02d","#2df02d","#138a13","#138a13","#ffd21e","#ffd21e","#e0891e","#e0891e","#ff1414","#ff1414"]},
      "legend": {"orient": "bottom-right", "offset": 11, "title": null, "symbolSize": 64, "symbolStrokeWidth": 1.2, "labelFontSize": 14, "labelColor": "#262626", "strokeColor": "#262626", "fillColor": "#ffffff", "padding": 6, "rowPadding": 4.7, "symbolOffset": 29, "labelOffset": 16,
        "labelExpr": "slice(datum.label,0,1)==='k' ? '' : datum.label + '\u00a0\u00a0\u00a0\u200b'",
        "encode": {"symbols": {"update": {"fill": {"value": "transparent"}, "strokeWidth": {"value": 1.2}, "size": {"value": 64},
          "shape": {"signal": "datum.value==='k0'?'M-1.2,0L1.2,0M0,-1.2L0,1.2M-0.85,-0.85L0.85,0.85M-0.85,0.85L0.85,-0.85':datum.value==='k1'?'M0,-1.3L1.2,0.9L-1.2,0.9Z':datum.value==='k2'?'M-0.95,-0.95L0.95,-0.95L0.95,0.95L-0.95,0.95Z':datum.value==='k3'?'M0,1.3L1.2,-0.9L-1.2,-0.9Z':datum.value==='k4'?'M0,-1.35L1.05,0L0,1.35L-1.05,0Z':datum.value==='k5'?'M-1.3,0L1.3,0M0,-1.3L0,1.3':datum.value==='k6'?'M-1.3,0L0.9,-1.2L0.9,1.2Z':'M-5.35,0L5.35,0'"}}}}}},
    "order": {"field": "y", "type": "quantitative"}
   }},
  {"data": {"name": "R"},
   "mark": {"type": "point", "filled": false, "size": 75, "strokeWidth": 1.1, "opacity": 1},
   "encoding": {
    "x": {"field": "v", "type": "quantitative", "scale": {"domain": [11, 17], "nice": false, "zero": false},
          "axis": {"orient": "top", "values": [11,12,13,14,15,16,17], "labels": false, "title": null, "grid": false, "tickSize": -5}},
    "y": {"field": "y", "type": "quantitative", "scale": {"domain": [-50, 50], "nice": false, "zero": false},
          "axis": {"orient": "right", "values": [-50,-40,-30,-20,-10,0,10,20,30,40,50], "labels": false, "title": null, "grid": false, "tickSize": -5}},
    "color": {"field": "k", "type": "nominal"},
    "shape": {"field": "k", "type": "nominal", "legend": null,
      "scale": {"domain": ["k0","k1","k2","k3","k4","k5","k6"],
                "range": ["M-1.1,0L1.1,0M0,-1.1L0,1.1M-0.78,-0.78L0.78,0.78M-0.78,0.78L0.78,-0.78","M0,-1.2L1.1,0.8L-1.1,0.8Z","M-0.85,-0.85L0.85,-0.85L0.85,0.85L-0.85,0.85Z","M0,1.2L1.1,-0.8L-1.1,-0.8Z","M0,-1.25L0.95,0L0,1.25L-0.95,0Z","M-1.2,0L1.2,0M0,-1.2L0,1.2","M-1.2,0L0.8,-1.1L0.8,1.1Z"]}}
   }}
 ],
 "resolve": {"axis": {"x": "independent", "y": "independent"}}
}
]
}
